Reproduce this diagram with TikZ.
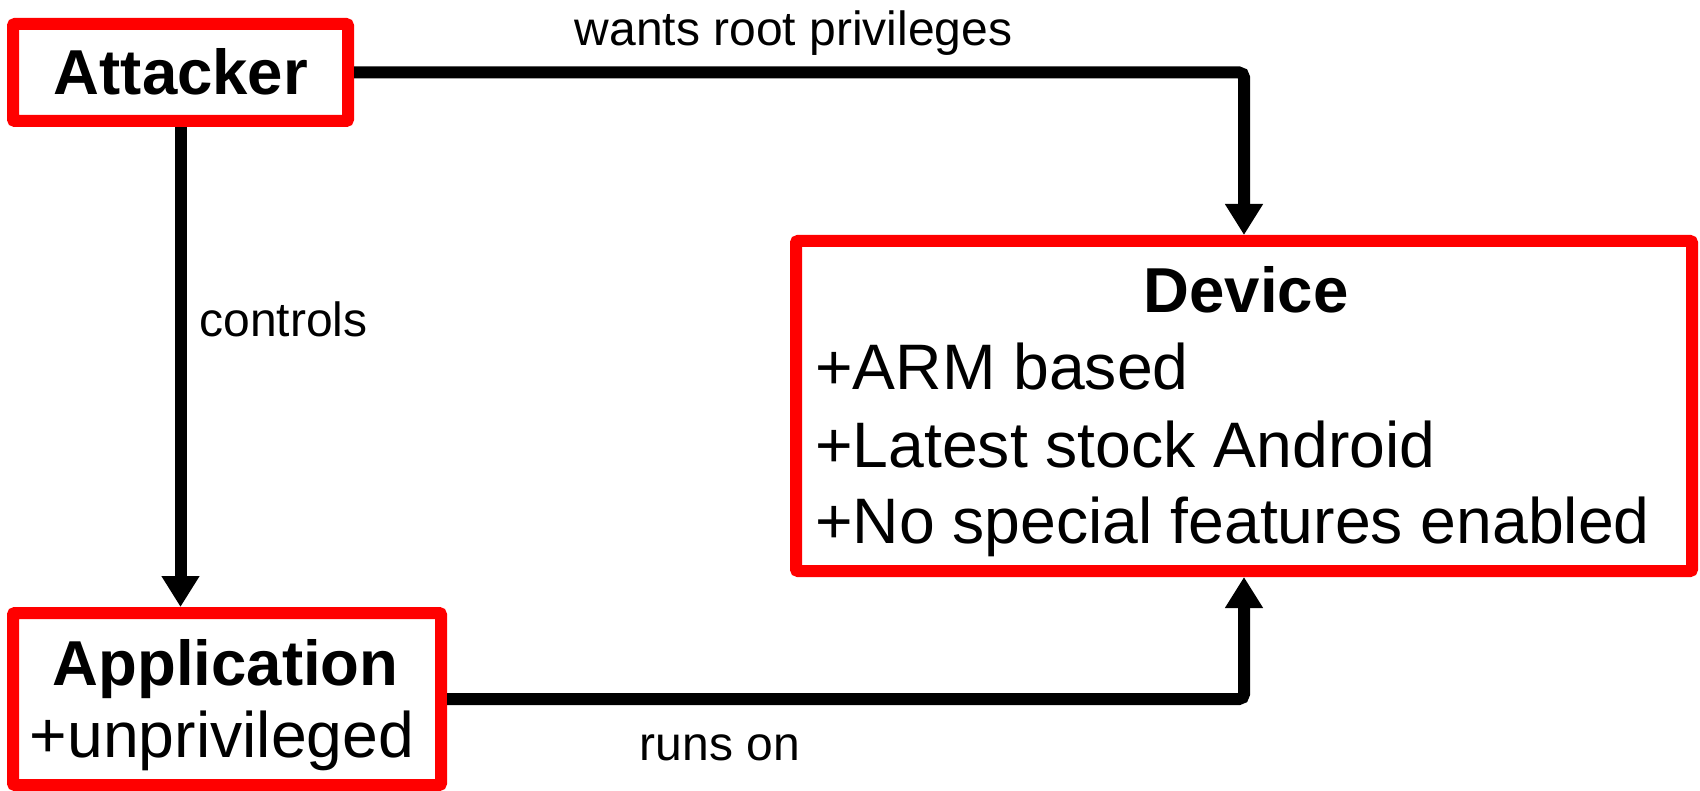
\documentclass[tikz,border=0pt]{standalone}
\usepackage{fontspec}
\setmainfont{Liberation Sans}
\usetikzlibrary{arrows.meta}
\tikzset{
  redbox/.style={draw=red, line width=12pt, rectangle, inner sep=0pt, rounded corners=2pt},
  conn/.style={draw=black, line width=12pt, rounded corners=5pt, -{Triangle[width=36pt,length=31pt]}},
  bigtxt/.style={font=\fontsize{64.3pt}{73pt}\selectfont, inner sep=0pt, anchor=base},
  bigbold/.style={font=\fontsize{63.5pt}{73pt}\selectfont\bfseries, inner sep=0pt, anchor=base},
  smalltxt/.style={font=\fontsize{48pt}{54pt}\selectfont, inner sep=0pt, anchor=base}
}
\begin{document}
\begin{tikzpicture}[x=1pt,y=-1pt]
\useasboundingbox (0,0) rectangle (1700,791);
\node[redbox, minimum width=335pt, minimum height=97pt] (att) at (180.5,72.5) {};
\node[redbox, minimum width=428pt, minimum height=172pt] (app) at (227,699) {};
\node[redbox, minimum width=896pt, minimum height=330pt] (dev) at (1244,406) {};
% texts
\node[bigbold] (attT) at (181,94.5) {Attacker};
\node[bigbold] (appT) at (225.5,685) {Application};
\node[bigtxt] (app1) at (222,757) {+unprivileged};
\node[bigbold] (devT) at (1246,313) {Device};
\node[bigtxt, anchor=base west] (dev1) at (815,390) {+ARM based};
\node[bigtxt, anchor=base west] (dev2) at (815,467) {+Latest stock Android};
\node[bigtxt, anchor=base west] (dev3) at (815,543) {+No special features enabled};
% connectors
\draw[conn] (att.east) -| (dev.north);
\draw[conn] (app.east) -| (dev.south);
\draw[conn] (att.south) -- (att.south |- app.north);
% labels
\node[smalltxt] (l1) at (793.5,46) {wants root privileges};
\node[smalltxt] (l2) at (283.5,337) {controls};
\node[smalltxt] (l3) at (720,760) {runs on};
\end{tikzpicture}
\end{document}
